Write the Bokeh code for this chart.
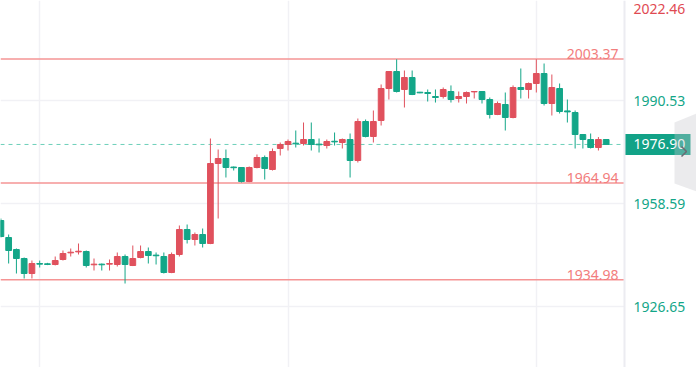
from bokeh.plotting import figure
from bokeh.models import ColumnDataSource, FixedTicker, Span, Label, Range1d
from bokeh.embed import file_html
from bokeh.resources import INLINE

# ---- data ----
opens = [1953.33, 1948.06, 1944.34, 1941.55, 1936.90, 1940.00, 1939.90, 1939.69, 1941.24, 1943.30,
         1943.60, 1943.72, 1939.60, 1939.80, 1939.80, 1939.69, 1942.17, 1939.38, 1941.86, 1943.72,
         1942.60, 1942.17, 1937.21, 1942.79, 1950.54, 1947.44, 1948.99, 1946.20, 1971.00, 1972.55,
         1969.90, 1969.76, 1965.42, 1969.76, 1972.86, 1969.14, 1975.65, 1976.89, 1977.30, 1977.20,
         1978.44, 1977.00, 1976.58, 1977.90, 1977.51, 1978.44, 1971.93, 1984.02, 1979.37, 1984.33,
         1994.25, 1999.52, 1993.94, 1997.66, 1993.10, 1993.01, 1991.77, 1991.77, 1993.32, 1991.15,
         1991.77, 1993.20, 1993.32, 1990.84, 1986.19, 1989.29, 1985.26, 1994.56, 1993.94, 1995.80,
         1998.90, 1989.60, 1994.25, 1987.30, 1986.81, 1979.99, 1978.44, 1975.96, 1978.44]
highs = [1953.95, 1948.99, 1944.65, 1941.86, 1940.93, 1940.90, 1940.20, 1942.17, 1944.03, 1944.65,
         1946.20, 1944.03, 1941.55, 1940.00, 1941.24, 1943.41, 1942.79, 1945.58, 1945.58, 1944.96,
         1943.41, 1943.41, 1943.41, 1951.78, 1952.09, 1949.61, 1950.85, 1978.75, 1975.34, 1975.34,
         1970.07, 1969.90, 1970.07, 1973.79, 1973.48, 1975.65, 1977.51, 1978.44, 1981.23, 1983.71,
         1983.71, 1978.75, 1978.44, 1980.61, 1978.75, 1980.30, 1984.95, 1984.64, 1987.43, 1995.50,
         1999.52, 2003.30, 1999.83, 1999.83, 1993.20, 1993.94, 1993.94, 1994.56, 1995.20, 1993.32,
         1993.32, 1993.40, 1993.40, 1991.46, 1990.22, 1993.01, 1995.20, 2000.45, 1996.10, 2003.30,
         2002.00, 1998.59, 1995.80, 1990.84, 1987.43, 1980.10, 1980.30, 1979.20, 1978.44]
lows = [1948.06, 1940.00, 1936.90, 1935.35, 1935.35, 1938.76, 1939.50, 1939.40, 1940.93, 1942.17,
        1942.79, 1938.76, 1937.83, 1937.83, 1937.83, 1939.07, 1933.80, 1939.20, 1941.60, 1940.00,
        1939.69, 1936.90, 1937.00, 1942.17, 1946.20, 1945.58, 1944.96, 1946.00, 1953.95, 1966.66,
        1968.83, 1965.11, 1965.20, 1969.50, 1966.04, 1968.83, 1973.48, 1975.03, 1975.96, 1976.58,
        1975.03, 1974.41, 1975.65, 1976.58, 1975.65, 1966.66, 1971.31, 1979.10, 1977.51, 1982.78,
        1990.84, 1993.01, 1988.36, 1992.20, 1992.80, 1990.22, 1989.90, 1991.15, 1989.90, 1989.90,
        1989.60, 1991.15, 1989.60, 1984.95, 1986.00, 1981.23, 1985.00, 1991.15, 1991.15, 1993.01,
        1988.98, 1985.88, 1986.50, 1983.71, 1975.65, 1975.65, 1975.65, 1975.03, 1976.90]
closes = [1948.37, 1944.03, 1941.55, 1936.90, 1940.00, 1939.80, 1939.70, 1940.93, 1943.10, 1943.50,
          1943.80, 1939.38, 1939.80, 1939.60, 1940.00, 1942.17, 1939.69, 1941.55, 1943.72, 1942.48,
          1942.40, 1937.21, 1942.79, 1950.54, 1947.44, 1948.99, 1946.20, 1971.00, 1972.55, 1969.76,
          1969.70, 1965.42, 1969.76, 1972.86, 1969.45, 1974.72, 1976.89, 1977.82, 1977.10, 1978.44,
          1976.89, 1976.80, 1977.82, 1977.70, 1978.44, 1971.93, 1984.02, 1979.37, 1984.02, 1994.25,
          1999.52, 1993.32, 1997.66, 1992.39, 1992.90, 1992.70, 1991.46, 1993.94, 1990.84, 1991.77,
          1993.01, 1993.32, 1990.84, 1986.19, 1989.60, 1985.26, 1994.56, 1993.94, 1995.80, 1998.90,
          1989.60, 1994.56, 1987.12, 1987.00, 1979.99, 1978.44, 1975.96, 1978.44, 1976.90]

tick_values = [1926.65, 1958.59, 1990.53]
top_value = 2022.46
level_values = [2003.37, 1964.94, 1934.98]
last_price = 1976.90

RED = "#e0515d"
GREEN = "#13a688"
LEVEL = "#f59494"
GRID = "#f1f1f5"

n = len(opens)
xs = list(range(n))
colors = [RED if c >= o else GREEN for o, c in zip(opens, closes)]
tops = [max(o, c) for o, c in zip(opens, closes)]
bots = [min(o, c) for o, c in zip(opens, closes)]
src = ColumnDataSource(dict(x=xs, o=opens, h=highs, l=lows, c=closes,
                            top=tops, bot=bots, color=colors))

W, H = 696, 367
CHART_PX = 624                    # width of the candle area in px
X0 = -0.05
DX = 1 / 7.76                     # data units per px (candle spacing 7.76 px)
EDGE = X0 + CHART_PX * DX         # right edge of candle area
X1 = X0 + W * DX
Y1 = 2021.53
DY = 0.31                         # price units per px
Y0 = Y1 - H * DY

p = figure(width=W, height=H, output_backend="svg", toolbar_location=None,
           x_range=Range1d(X0, X1), y_range=Range1d(Y0, Y1),
           min_border=0)
p.outline_line_color = None
p.background_fill_color = "white"
p.border_fill_color = "white"
p.xaxis.visible = False
p.yaxis.visible = False
p.ygrid.visible = False
p.xgrid.ticker = FixedTicker(ticks=[5, 37, 69])
p.xgrid.grid_line_color = GRID
p.xgrid.grid_line_width = 1.5

# horizontal grid (only in candle area)
p.segment(x0=[X0] * len(tick_values), x1=[EDGE] * len(tick_values),
          y0=tick_values, y1=tick_values, line_color=GRID, line_width=1.5)

# border between chart and price axis
p.add_layout(Span(location=EDGE, dimension="height", line_color="#ececf1", line_width=2))

# level lines
p.segment(x0=[X0] * len(level_values), x1=[EDGE] * len(level_values),
          y0=level_values, y1=level_values, line_color=LEVEL, line_width=1.5)
for v in level_values:
    p.add_layout(Label(x=EDGE, y=v, x_offset=-6, text=f"{v:.2f}", text_align="right",
                       text_baseline="bottom", text_color="#f27d7d", text_font="Noto Sans",
                       text_font_size="14px"))

# last price dashed line
p.segment(x0=[X0], x1=[EDGE], y0=[last_price], y1=[last_price], line_color="#6ccfb9",
          line_width=1, line_dash="4 4")

# candles
p.segment(x0="x", y0="h", x1="x", y1="l", color="color", line_width=1, source=src)
p.vbar(x="x", width=0.74, top="top", bottom="bot", fill_color="color",
       line_color="color", line_width=1, source=src)

# price axis labels
for v in tick_values:
    p.add_layout(Label(x=EDGE, y=v, x_offset=9, text=f"{v:.2f}", text_align="left",
                       text_baseline="middle", text_color=GREEN, text_font="Noto Sans",
                       text_font_size="14px"))
p.add_layout(Label(x=EDGE, y=Y1 - 8 * DY, x_offset=9, text=f"{top_value:.2f}", text_align="left",
                   text_baseline="middle", text_color="#df4a52", text_font="Noto Sans",
                   text_font_size="14px"))

# last price tag: box (glyph level) + text (annotation level, above it)
p.quad(left=[EDGE], right=[X0 + 690 * DX], bottom=[last_price - 10.5 * DY],
       top=[last_price + 10.5 * DY], fill_color="#12a287", line_color=None)
p.add_layout(Label(x=EDGE, y=last_price, x_offset=9, text=f"{last_price:.2f}", text_align="left",
                   text_baseline="middle", text_color="white", text_font="Noto Sans",
                   text_font_size="14px"))

# side tab (collapse handle), drawn above the tag
tab_x = [X0 + 674 * DX, X1, X1, X0 + 674 * DX]
tab_y = [Y1 - 122 * DY, Y1 - 113 * DY, Y1 - 191 * DY, Y1 - 183 * DY]
tab = p.patch(tab_x, tab_y, fill_color="#c6c6cc", fill_alpha=0.35, line_color=None)
tab.level = "overlay"
chev = p.line([X0 + 681 * DX, X0 + 686 * DX, X0 + 681 * DX],
              [Y1 - 146 * DY, Y1 - 151 * DY, Y1 - 156 * DY],
              line_color="#6a6a72", line_width=1.5)
chev.level = "overlay"

open("out.html", "w").write(file_html(p, INLINE))
